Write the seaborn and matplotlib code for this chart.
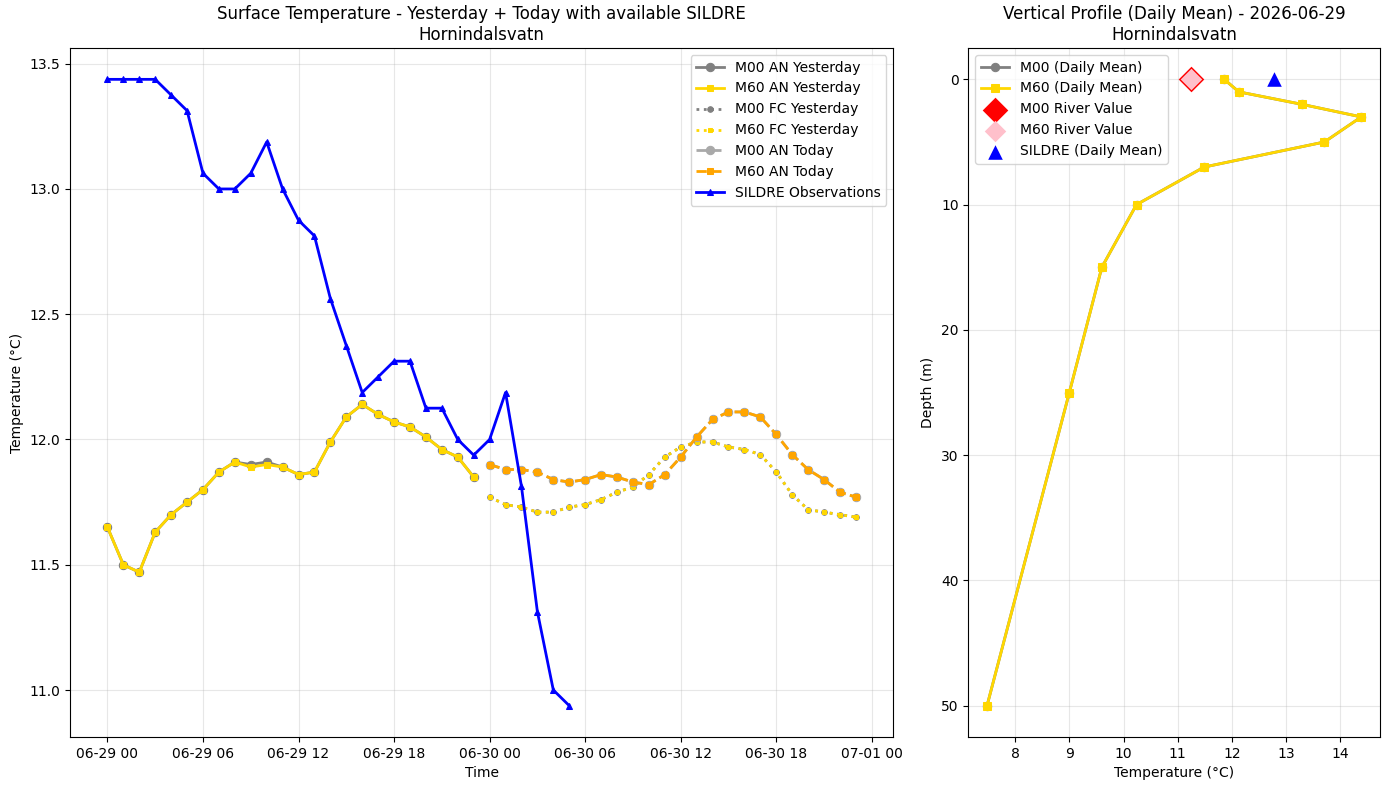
import numpy as np
import pandas as pd
import matplotlib
matplotlib.use("Agg")
import matplotlib.pyplot as plt
import matplotlib.dates as mdates
import seaborn as sns

# ---------------- data ----------------
yesterday_times = pd.date_range("2026-06-29 00:00", periods=24, freq="h")
today_times = pd.date_range("2026-06-30 00:00", periods=24, freq="h")
sildre_times = pd.date_range("2026-06-29 00:00", periods=30, freq="h")

m00_an_yesterday = [11.65, 11.50, 11.47, 11.63, 11.70, 11.75, 11.80, 11.87, 11.91, 11.90,
                    11.91, 11.89, 11.86, 11.87, 11.99, 12.09, 12.14, 12.10, 12.07, 12.05,
                    12.01, 11.96, 11.93, 11.85]
m60_an_yesterday = [11.65, 11.50, 11.47, 11.63, 11.70, 11.75, 11.80, 11.87, 11.91, 11.89,
                    11.90, 11.89, 11.86, 11.87, 11.99, 12.09, 12.14, 12.10, 12.07, 12.05,
                    12.01, 11.96, 11.93, 11.85]
m00_fc_yesterday = [11.77, 11.74, 11.73, 11.71, 11.71, 11.73, 11.74, 11.76, 11.79, 11.81,
                    11.86, 11.93, 11.97, 11.99, 11.99, 11.97, 11.96, 11.94, 11.87, 11.78,
                    11.72, 11.71, 11.70, 11.69]
m60_fc_yesterday = [11.77, 11.74, 11.73, 11.71, 11.71, 11.73, 11.74, 11.76, 11.79, 11.81,
                    11.86, 11.93, 11.97, 11.99, 11.99, 11.97, 11.96, 11.94, 11.87, 11.78,
                    11.72, 11.71, 11.70, 11.69]
m00_an_today = [11.90, 11.88, 11.88, 11.87, 11.84, 11.83, 11.84, 11.86, 11.85, 11.83,
                11.82, 11.86, 11.93, 12.01, 12.08, 12.11, 12.11, 12.09, 12.02, 11.94,
                11.88, 11.84, 11.79, 11.77]
m60_an_today = [11.90, 11.88, 11.88, 11.87, 11.84, 11.83, 11.84, 11.86, 11.85, 11.83,
                11.82, 11.86, 11.93, 12.01, 12.08, 12.11, 12.11, 12.09, 12.02, 11.94,
                11.88, 11.84, 11.79, 11.77]
sildre_obs = [13.4375, 13.4375, 13.4375, 13.4375, 13.375, 13.3125, 13.0625, 13.0, 13.0, 13.0625,
              13.1875, 13.0, 12.875, 12.8125, 12.5625, 12.375, 12.1875, 12.25, 12.3125, 12.3125,
              12.125, 12.125, 12.0, 11.9375, 12.0, 12.1875, 11.8125, 11.3125, 11.0, 10.9375]

depths = [0, 1, 2, 3, 5, 7, 10, 15, 25, 50]
m00_profile = [11.86, 12.13, 13.30, 14.39, 13.71, 11.49, 10.24, 9.60, 9.00, 7.48]
m60_profile = [11.86, 12.13, 13.30, 14.39, 13.71, 11.49, 10.24, 9.60, 9.00, 7.48]
m00_river = 11.25
m60_river = 11.25
sildre_daily_mean = 12.77
river_depth = 0

# ---------------- figure ----------------
fig = plt.figure(figsize=(13.89, 7.9), dpi=100)
gs = fig.add_gridspec(1, 2, width_ratios=[2, 1], left=0.0504, right=0.9935,
                      top=0.9392, bottom=0.0671, wspace=0.1215)
ax1 = fig.add_subplot(gs[0, 0])
ax2 = fig.add_subplot(gs[0, 1])

def line(ax, x, y, color, **kw):
    df = pd.DataFrame({"x": x, "y": y})
    sns.lineplot(data=df, x="x", y="y", ax=ax, color=color,
                 markeredgecolor=color, **kw)

line(ax1, yesterday_times, m00_an_yesterday, "grey", marker="o", linestyle="-",
     linewidth=2, markersize=6, label="M00 AN Yesterday")
line(ax1, yesterday_times, m60_an_yesterday, "gold", marker="s", linestyle="-",
     linewidth=2, markersize=5, label="M60 AN Yesterday")
line(ax1, today_times, m00_fc_yesterday, "grey", marker="o", linestyle=":",
     linewidth=2, markersize=4, label="M00 FC Yesterday")
line(ax1, today_times, m60_fc_yesterday, "gold", marker="s", linestyle=":",
     linewidth=2, markersize=3.5, label="M60 FC Yesterday")
line(ax1, today_times, m00_an_today, "darkgrey", marker="o", linestyle="--",
     linewidth=2, markersize=6, label="M00 AN Today")
line(ax1, today_times, m60_an_today, "orange", marker="s", linestyle="--",
     linewidth=2, markersize=5, label="M60 AN Today")
line(ax1, sildre_times, sildre_obs, "blue", marker="^", linestyle="-",
     linewidth=2, markersize=5, label="SILDRE Observations")

ax1.set_title("Surface Temperature - Yesterday + Today with available SILDRE\nHornindalsvatn")
ax1.set_xlabel("Time")
ax1.set_ylabel("Temperature (°C)")
ax1.xaxis.set_major_locator(mdates.HourLocator(byhour=[0, 6, 12, 18]))
ax1.xaxis.set_major_formatter(mdates.DateFormatter("%m-%d %H"))
ax1.grid(True, alpha=0.3)
ax1.legend(loc="upper right")

# profile
dfp0 = pd.DataFrame({"t": m00_profile, "d": depths})
dfp6 = pd.DataFrame({"t": m60_profile, "d": depths})
sns.lineplot(data=dfp0, x="t", y="d", sort=False, orient="y", ax=ax2, color="grey",
             markeredgecolor="grey", marker="o", linewidth=2, markersize=6,
             label="M00 (Daily Mean)")
sns.lineplot(data=dfp6, x="t", y="d", sort=False, orient="y", ax=ax2, color="gold",
             markeredgecolor="gold", marker="s", linewidth=2, markersize=6,
             label="M60 (Daily Mean)")
sns.scatterplot(x=[m00_river], y=[river_depth], ax=ax2, color="red", marker="D", s=170,
                linewidth=0, label="M00 River Value", zorder=5)
sns.scatterplot(x=[m60_river], y=[river_depth], ax=ax2, color="pink", marker="D", s=120,
                linewidth=0, label="M60 River Value", zorder=6)
sns.scatterplot(x=[sildre_daily_mean], y=[river_depth], ax=ax2, color="blue", marker="^", s=110,
                linewidth=0, label="SILDRE (Daily Mean)", zorder=6)
ax2.invert_yaxis()
ax2.set_title("Vertical Profile (Daily Mean) - 2026-06-29\nHornindalsvatn")
ax2.set_xlabel("Temperature (°C)")
ax2.set_ylabel("Depth (m)")
ax2.grid(True, alpha=0.3)
ax2.legend(loc="upper left")

fig.savefig("out.png", dpi=100)
